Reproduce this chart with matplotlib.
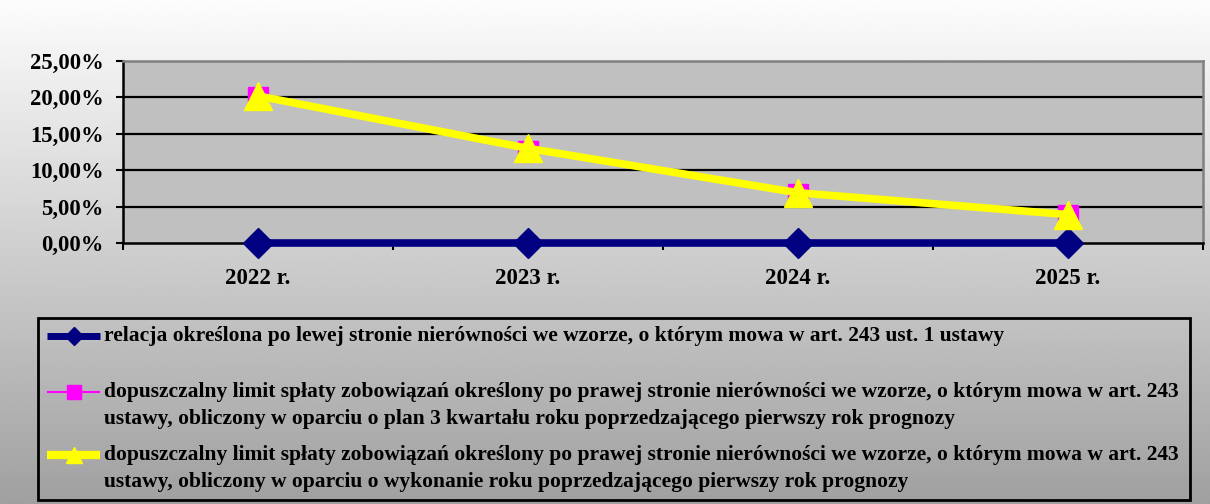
import numpy as np
import matplotlib
matplotlib.use("Agg")
import matplotlib.pyplot as plt
from matplotlib.lines import Line2D
from matplotlib.patches import Rectangle
from matplotlib.ticker import FuncFormatter, FixedLocator

categories = ["2022 r.", "2023 r.", "2024 r.", "2025 r."]
relacja = [0.0, 0.0, 0.0, 0.0]
limit_plan = [20.0, 12.7, 6.7, 3.8]
limit_wyk = [20.2, 13.0, 6.9, 3.9]
labels = [
    "relacja określona po lewej stronie nierówności we wzorze, o którym mowa w art. 243 ust. 1 ustawy",
    "dopuszczalny limit spłaty zobowiązań określony po prawej stronie nierówności we wzorze, o którym mowa w art. 243\nustawy, obliczony w oparciu o plan 3 kwartału roku poprzedzającego pierwszy rok prognozy",
    "dopuszczalny limit spłaty zobowiązań określony po prawej stronie nierówności we wzorze, o którym mowa w art. 243\nustawy, obliczony w oparciu o wykonanie roku poprzedzającego pierwszy rok prognozy",
]
yticks = [0, 5, 10, 15, 20, 25]

plt.rcParams['font.family'] = ['Liberation Serif', 'DejaVu Serif']
plt.rcParams['font.weight'] = 'bold'

W, H = 1210, 504
fig = plt.figure(figsize=(W / 100, H / 100), dpi=100)

# gradient background
bg = fig.add_axes([0, 0, 1, 1], zorder=-10)
grad = np.linspace(252, 160, 256)[:, None] / 255.0
bg.imshow(np.repeat(grad, 2, axis=1), cmap='gray', vmin=0, vmax=1, aspect='auto',
          extent=[0, 1, 0, 1])
bg.set_axis_off()

def px(x0, y0, x1, y1):
    return [x0 / W, 1 - y1 / H, (x1 - x0) / W, (y1 - y0) / H]

ax = fig.add_axes(px(123, 61, 1203, 243))
ax.set_facecolor('#c0c0c0')
x = np.arange(len(categories))
ax.set_xlim(-0.5, len(categories) - 0.5)
ax.set_ylim(0, 25)

for yv in yticks[1:-1]:
    ax.axhline(yv, color='black', lw=1.6, zorder=1)

l1, = ax.plot(x, relacja, color='#000080', lw=5.5, marker='D', ms=15,
              mfc='#000080', mec='#000080', zorder=3, clip_on=False)
l2, = ax.plot(x, limit_plan, color='#ff00ff', lw=1.5, marker='s', ms=15,
              mfc='#ff00ff', mec='#ff00ff', zorder=4, clip_on=False)
l3, = ax.plot(x, limit_wyk, color='#ffff00', lw=5.5, marker='^', ms=20,
              mfc='#ffff00', mec='#ffff00', zorder=5, clip_on=False)

ax.set_yticks(yticks)
ax.yaxis.set_major_formatter(FuncFormatter(lambda v, p: f"{v:.2f}".replace('.', ',') + "%"))
ax.set_xticks(x)
ax.set_xticklabels(categories)
ax.xaxis.set_minor_locator(FixedLocator(np.arange(-0.5, len(categories), 1.0)))
ax.tick_params(axis='x', which='major', length=0, pad=18, labelsize=16.5)
ax.tick_params(axis='x', which='minor', length=5, width=1.5, direction='out', color='black')
ax.tick_params(axis='y', length=5, width=1.5, direction='out', pad=9, labelsize=16.3)
for lab in ax.get_xticklabels() + ax.get_yticklabels():
    lab.set_fontweight('bold')

ax.spines['left'].set_color('black')
ax.spines['left'].set_linewidth(1.8)
ax.spines['bottom'].set_color('black')
ax.spines['bottom'].set_linewidth(1.8)
ax.spines['top'].set_color('#808080')
ax.spines['top'].set_linewidth(1.8)
ax.spines['right'].set_color('#808080')
ax.spines['right'].set_linewidth(1.8)

# legend drawn in figure pixel coordinates
lax = fig.add_axes([0, 0, 1, 1], zorder=5)
lax.set_xlim(0, W)
lax.set_ylim(H, 0)
lax.set_axis_off()
lax.add_patch(Rectangle((38, 318), 1152, 182, fill=False, ec='black', lw=2))

handles = [
    (336, [336], l1, dict(lw=5, ms=9)),
    (392, [392, 419], l2, dict(lw=1.5, ms=10)),
    (455, [455, 482], l3, dict(lw=6, ms=11)),
]
for (hy, ty, line, st), lab in zip(handles, labels):
    lax.add_line(Line2D([47, 100], [hy, hy], color=line.get_color(), lw=st['lw'],
                        solid_capstyle='butt'))
    lax.add_line(Line2D([73.5], [hy], marker=line.get_marker(), ms=st['ms'],
                        mfc=line.get_color(), mec=line.get_color(), lw=0))
    for yy, txt in zip(ty, lab.split('\n')):
        lax.text(104, yy, txt, fontsize=15.5, fontweight='bold', va='center', ha='left')

fig.savefig('out.png', dpi=100)
